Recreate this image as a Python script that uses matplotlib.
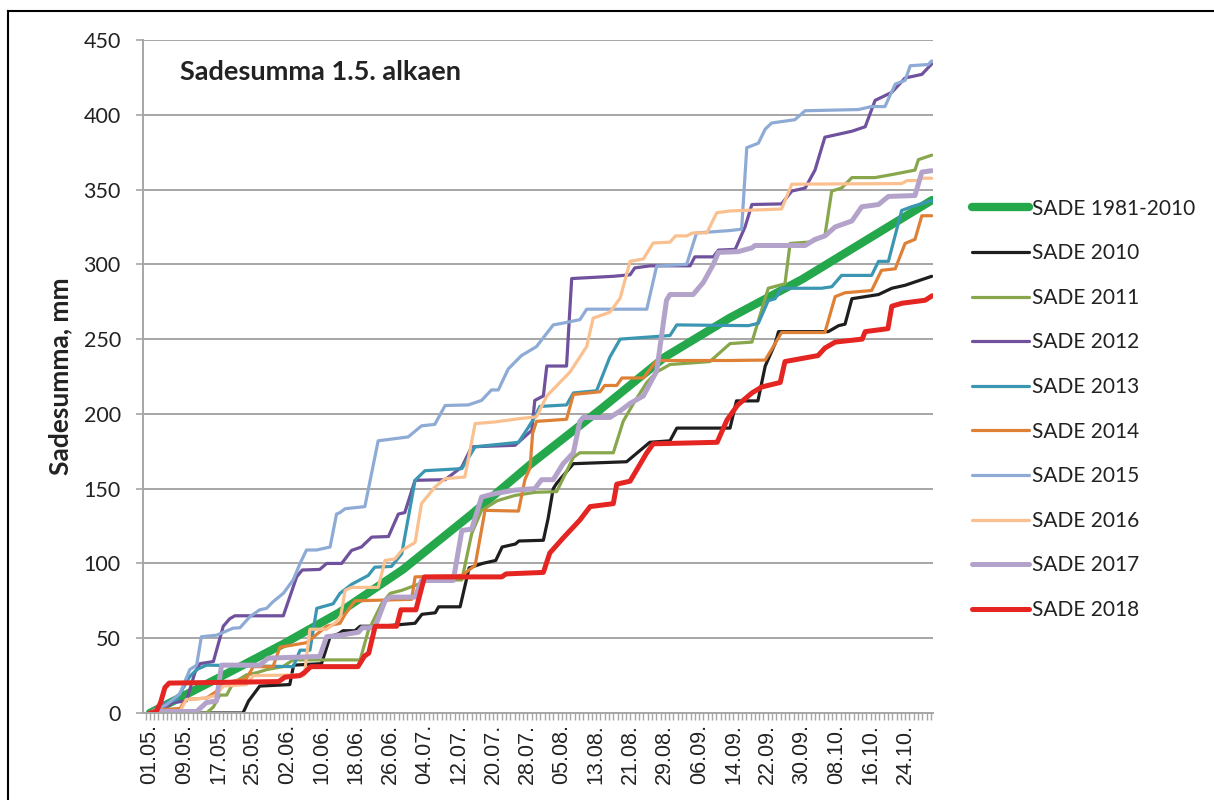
import matplotlib.pyplot as plt
from matplotlib.lines import Line2D
from matplotlib.ticker import MultipleLocator

plt.rcParams['font.family'] = ['Lato', 'DejaVu Sans']

# day index from 01.05. (0) to 31.10. (183), value = cumulative rain mm
sade_avg = [(0, 0), (15, 22), (31, 46), (44, 67), (59, 96), (75, 133), (89, 167),
            (105, 203), (120, 238), (135, 264), (152, 290), (168, 318), (182.3, 343)]

sade_2010 = [(0, 0), (21.7, 0), (23, 8), (25.6, 18), (32.6, 19), (33.5, 32), (40, 33),
             (42, 51), (44, 53), (45, 55), (47.8, 55), (49, 58), (54, 58), (61.8, 60),
             (63.4, 66), (66.5, 67), (67.3, 71), (72.3, 71), (74.4, 97), (77.5, 100),
             (80.6, 102), (82.1, 111), (85.2, 113), (86, 115), (91.7, 115.5), (92.8, 130),
             (94, 150), (94.8, 153.6), (98.7, 166.7), (111.1, 168), (116.5, 181),
             (121.2, 182), (122.8, 190.5), (135.2, 190.5), (136.7, 208.7), (141.7, 208.7),
             (143.4, 232), (145.7, 247), (146.5, 255), (158.1, 255), (160.5, 259),
             (162, 260), (163.6, 277), (169.8, 279.8), (172.9, 284), (176, 286),
             (179.1, 289), (182.2, 292)]

sade_2011 = [(0, 0), (13.2, 0), (14.8, 4), (16.3, 12), (17.9, 12), (19.4, 20), (22.5, 25.5),
             (25, 27), (27.2, 29), (31, 31), (33.4, 35.5), (49, 35.5), (50.9, 55), (54, 73),
             (56, 80), (58.7, 82), (64.9, 88.6), (72.7, 89), (75, 120), (77.3, 135.5),
             (81, 142), (85.1, 145.5), (89.9, 147.6), (94.8, 148), (98.7, 171), (100.2, 174),
             (108, 174), (110.3, 195), (112.7, 207), (115.8, 221), (118.1, 228), (121.2, 233),
             (130.5, 235), (135.2, 247), (140.3, 248), (144.1, 284), (148, 287), (149.2, 314),
             (154.2, 315), (157.3, 319), (158.9, 349), (161.2, 351), (163.6, 358), (169, 358),
             (172.9, 360), (178.3, 363), (179.1, 370), (182.2, 373)]

sade_2012 = [(0, 0), (2.3, 1), (5.4, 7), (8.5, 8), (10.5, 27), (11.7, 33), (14.8, 34.4),
             (17.1, 58), (18.6, 63), (19.8, 65), (31.1, 65), (34.2, 91), (35.5, 95.6),
             (39.6, 96), (41.2, 100), (44.7, 100), (47, 108.7), (49.3, 111), (51.7, 117.6),
             (55.6, 118), (57.9, 133), (59.4, 134), (61.8, 155.6), (68.8, 156), (72.7, 164.5),
             (75, 178), (85.1, 179), (89, 189), (89.7, 209), (91.7, 212), (92.5, 232),
             (97.1, 232), (98.3, 290.5), (108, 292), (111.9, 293), (113, 297.6), (116.6, 299),
             (125.9, 299), (127, 305), (131.3, 305), (132.5, 309.5), (136.4, 310),
             (138.7, 325), (140.3, 340), (147.2, 340.4), (149.6, 349), (152.7, 351),
             (155, 363), (157.3, 385), (163.6, 389), (166.7, 392), (169, 409.6), (172.9, 415),
             (176, 424.6), (179.9, 427), (182.2, 434)]

sade_2013 = [(0, 0), (0.5, 1), (2.3, 5.6), (6.2, 9), (9.3, 24.4), (10.9, 29), (13.2, 32),
             (33.4, 31), (35, 42), (37.3, 42), (38.9, 70), (42.7, 73), (44.3, 80), (47, 86),
             (50.9, 92), (52.4, 97.5), (56.3, 98), (58.7, 106.5), (61.8, 155.6), (64.1, 162),
             (72.7, 163.4), (75.8, 178), (85.9, 181), (88.2, 191), (89.7, 198), (90.9, 205),
             (97.1, 206), (98.7, 214), (104.1, 215.5), (107.2, 238), (109.6, 250),
             (121.2, 252.4), (122.8, 259.5), (139.5, 259), (141.8, 260.6), (144.1, 275.7),
             (145.7, 277), (147.2, 284), (156.5, 284), (158.9, 285), (161.2, 292.6),
             (168.2, 292.6), (169.8, 302), (172.1, 302), (175.2, 336), (177.5, 338.5),
             (182.2, 342.6)]

sade_2014 = [(0, 0), (1, 2), (7, 3), (8.5, 9), (13.2, 10), (15.5, 14.4), (17.1, 20),
             (22.5, 23), (24.1, 31), (28.7, 31), (30.3, 44), (36.5, 47), (41.2, 58),
             (44.3, 60), (45.5, 66), (47.8, 75), (61, 76), (61.8, 91), (72.7, 92),
             (75.8, 98.7), (78.1, 135.5), (85.9, 135), (87.4, 156), (88.6, 164), (89.2, 187),
             (90.1, 195), (97.1, 196.4), (98.7, 213), (104.9, 214.8), (106, 219), (108.8, 219),
             (110, 224), (115, 224), (118.1, 235.7), (135.2, 235.7), (143.4, 236),
             (145.7, 247), (147.2, 254.4), (157.3, 254.4), (159.7, 278.4), (162, 281),
             (168.2, 282.5), (170.5, 296), (173.7, 297), (176, 314), (178.3, 316.7),
             (179.9, 332.5), (182.2, 332.5)]

sade_2015 = [(0, 0), (0.5, 1), (3.9, 5.6), (7, 13), (9.3, 29), (10.9, 32), (12, 51),
             (15.5, 52), (19.4, 56.7), (21, 57), (23.3, 64.4), (25.6, 69), (27.2, 70),
             (28.7, 74.4), (31.1, 80), (33.4, 89), (35, 100), (36.5, 109), (38.9, 109),
             (42, 111), (43.5, 133), (44.3, 134), (45.5, 136.6), (50.1, 138), (53.2, 182),
             (60.2, 184.6), (63.3, 192), (66.4, 193), (68.8, 205.6), (74.2, 206), (77.3, 209),
             (79.6, 216), (81.2, 216), (83.5, 230), (86.6, 239), (90.1, 245), (94, 259.5),
             (96.3, 260.7), (100.2, 263), (101.8, 270), (115.8, 270), (118.1, 298.8),
             (125.1, 300), (127.4, 321), (135.2, 322.6), (137.9, 323.5), (139.1, 378),
             (141.8, 381), (143.4, 390.4), (144.9, 394.5), (150.3, 396.7), (152.7, 402.7),
             (165.1, 403.5), (168.2, 405.5), (171.3, 405.5), (173.7, 420.5), (176, 423),
             (177.2, 432.8), (181.4, 433.6), (182.2, 436)]

sade_2016 = [(0, 0), (1, 1), (7, 1), (8.5, 9), (13.2, 10), (15.5, 12), (17.1, 18),
             (22.5, 19), (24.1, 25), (36, 25.5), (37.3, 56), (41.2, 56), (43.5, 61),
             (44.5, 65), (45.5, 82), (47, 84), (53.2, 84), (54.8, 102), (57.1, 103),
             (58.7, 108.7), (61.8, 114), (63.3, 140), (66.4, 151), (68.8, 156.7),
             (73.4, 157.8), (75.8, 193.5), (80.4, 194.6), (86.6, 197), (90.1, 198),
             (92.5, 212), (97.9, 228), (101.8, 245), (103.3, 264), (107.2, 268),
             (109.6, 277.4), (111.9, 302), (115, 303.6), (117.3, 314.3), (121.2, 314.8),
             (122.5, 319), (125.1, 319), (126.5, 321), (129.8, 321), (132.1, 334.5),
             (135.2, 335.7), (147.2, 337), (149.6, 353.6), (175.2, 354), (176.5, 356),
             (179.1, 356), (180, 357.6), (182.2, 357.6)]

sade_2017 = [(0, 0), (1, 1), (10.9, 1), (13.2, 7), (15.5, 8), (16.7, 32), (25.6, 32),
             (27.6, 36.7), (39.6, 37.8), (41.2, 51), (44.3, 52), (48.6, 54), (49.5, 57),
             (52.4, 57), (54.8, 75), (56, 77.5), (61.8, 77.5), (63.3, 88.6), (70.7, 88.6),
             (72.7, 122), (75, 123), (77.3, 144.4), (80.4, 146.7), (85, 149), (89.7, 150),
             (91.3, 156), (94, 156), (96.3, 166.7), (98.7, 174), (100.2, 195), (101, 197.6),
             (107.2, 197.6), (109.6, 202), (111.9, 207), (115, 212), (118.1, 228.6),
             (120.4, 276), (121.2, 279.8), (126.6, 279.8), (129, 288), (131.3, 300),
             (132.5, 308), (137.1, 308.5), (140.3, 311), (141, 312.6), (152.7, 312.6),
             (155, 316.7), (157.3, 319), (159.7, 325), (163.6, 329), (165.9, 338.5),
             (169.8, 340), (172.1, 345.4), (178.3, 346), (179.9, 361.7), (182.2, 362.6)]

sade_2018 = [(0, 0), (1.5, 1), (2.5, 7), (3.5, 17), (4.5, 20), (30, 21), (31.5, 24),
             (35, 25), (36, 27), (37.5, 31), (48.5, 31), (50, 38), (51, 40), (52.5, 58),
             (57.5, 58), (58.5, 69), (62, 69), (64, 91), (82, 91), (83, 93), (91.7, 94),
             (93.2, 107), (96.3, 117), (100.2, 129), (102.6, 138), (108, 140), (108.8, 153),
             (111.9, 155), (115.8, 174), (117.3, 180), (132.2, 181), (134.5, 196), (137, 206),
             (140.3, 214), (142.6, 218), (146.9, 221), (148, 235), (155.7, 239), (157.3, 244),
             (159.7, 248), (166, 250), (166.7, 255), (172, 257), (172.9, 272), (175.3, 274),
             (180.7, 276), (182.3, 279)]

names = ['SADE 1981-2010', 'SADE 2010', 'SADE 2011', 'SADE 2012', 'SADE 2013',
         'SADE 2014', 'SADE 2015', 'SADE 2016', 'SADE 2017', 'SADE 2018']
series = [sade_avg, sade_2010, sade_2011, sade_2012, sade_2013,
          sade_2014, sade_2015, sade_2016, sade_2017, sade_2018]
colors = ['#25A84C', '#1E1E1E', '#88A64C', '#6F519D', '#3B97B1',
          '#DE8136', '#8EABD6', '#FBC08F', '#B3A3CA', '#E52522']
widths = [6, 2.3, 2.3, 2.3, 2.3, 2.3, 2.3, 2.3, 3.6, 3.6]

tick_labels = ['01.05.', '09.05.', '17.05.', '25.05.', '02.06.', '10.06.', '18.06.',
               '26.06.', '04.07.', '12.07.', '20.07.', '28.07.', '05.08.', '13.08.',
               '21.08.', '29.08.', '06.09.', '14.09.', '22.09.', '30.09.', '08.10.',
               '16.10.', '24.10.']

W, H = 1214, 800
fig = plt.figure(figsize=(W / 100, H / 100), dpi=100)
ax = fig.add_axes([143 / W, 1 - 713 / H, 790 / W, 673 / H])

for data, name, c, lw in zip(series, names, colors, widths):
    xs = [p[0] for p in data]
    ys = [p[1] for p in data]
    ax.plot(xs, ys, color=c, lw=lw, label=name,
            solid_capstyle='round', solid_joinstyle='round')

grid_c = '#A6A6A6'
ax.set_xlim(-1.6, 182.5)
ax.set_ylim(0, 450)
ax.yaxis.set_major_locator(MultipleLocator(50))
ax.yaxis.grid(True, color=grid_c, lw=1.4)
ax.set_axisbelow(True)
for s in ['top', 'right']:
    ax.spines[s].set_visible(False)
for s in ['left', 'bottom']:
    ax.spines[s].set_color(grid_c)
    ax.spines[s].set_linewidth(1.4)

ax.set_xticks([8 * i for i in range(len(tick_labels))])
ax.set_xticklabels(tick_labels, rotation=90, family=['Liberation Sans'],
                   fontsize=15.5, color='#222222')
ax.xaxis.set_minor_locator(MultipleLocator(1))
ax.tick_params(axis='x', which='both', length=5, width=1, color=grid_c, pad=3)
ax.tick_params(axis='y', length=5, width=1.2, color=grid_c, pad=11,
               labelsize=15.5, labelcolor='#222222')

fig.text(60 / W, 1 - 376 / H, 'Sadesumma, mm', fontsize=19, fontweight='bold',
         rotation=90, va='center', ha='center', color='#222222')
fig.text(180 / W, 1 - 72 / H, 'Sadesumma 1.5. alkaen', fontsize=19.5,
         fontweight='bold', va='center', ha='left', color='#222222')

fig.legend(loc='upper left', bbox_to_anchor=(953 / W, 1 - 180 / H), frameon=False,
           fontsize=15, handlelength=2.75, handletextpad=0.15, labelspacing=1.18,
           labelcolor='#222222')

# outer frame (only the left and top edges are visible in the crop)
fig.add_artist(Line2D([8 / W, 8 / W], [0, 1 - 11 / H], color='black', lw=1.5))
fig.add_artist(Line2D([8 / W, 1], [1 - 11 / H, 1 - 11 / H], color='black', lw=1.5))

fig.savefig('out.png', dpi=100)
